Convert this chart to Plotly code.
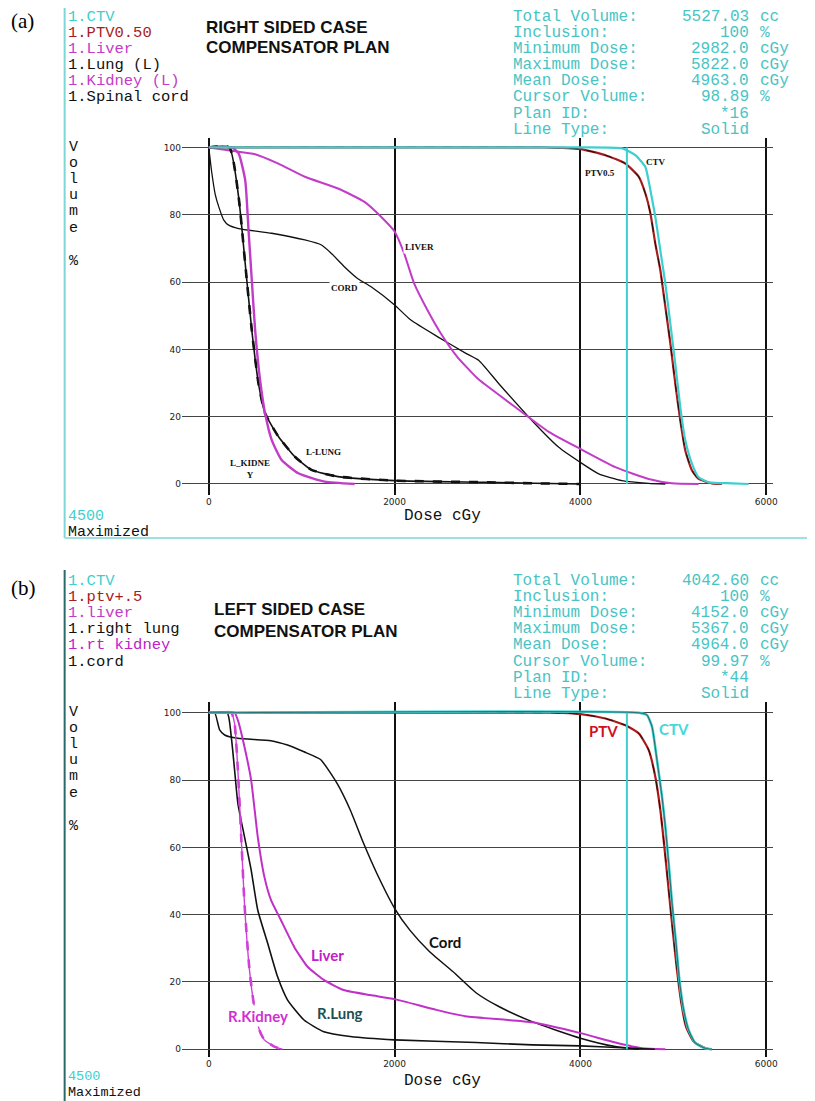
import plotly.graph_objects as go

# page body has an 8px margin: draw the figure 8px smaller and shift coordinates
OFF = 8
W, H = 815 - OFF, 1101 - OFF

# ---------------- data: panel (a) right sided case ----------------
a_ctv_dose = [0, 4000, 4448, 4591, 4699, 4753, 4806, 4860, 4914, 4968, 5021, 5075, 5129, 5201, 5272, 5380, 5631, 5810]
a_ctv_vol = [100, 100, 99.7, 97.7, 94.2, 87.3, 79.4, 69.4, 59.5, 47.6, 35.7, 22.8, 12.9, 6.0, 2.0, 0.5, 0.2, 0]
a_ptv_dose = [0, 3600, 4000, 4269, 4484, 4627, 4699, 4753, 4806, 4860, 4914, 4968, 5021, 5075, 5129, 5201, 5272, 5416, 5523]
a_ptv_vol = [100, 100, 99.5, 97.7, 95.2, 91.3, 86.3, 80.4, 71.4, 63.5, 52.6, 41.7, 29.8, 18.8, 9.9, 4.0, 1.5, 0.2, 0]
a_liver_dose = [0, 250, 499, 749, 1034, 1391, 1676, 1854, 2000, 2103, 2210, 2353, 2496, 2674, 2888, 2978, 3301, 3660, 4000, 4376, 4735, 4986, 5272]
a_liver_vol = [100, 99, 98, 95.2, 91.3, 87.8, 83.8, 79.4, 75, 68.5, 59.6, 51.7, 44.8, 37.8, 31.5, 29.5, 22.8, 15.5, 10.4, 5.0, 1.5, 0.2, 0]
a_cord_dose = [0, 30, 70, 107, 160, 214, 321, 677, 1034, 1213, 1320, 1462, 1605, 1747, 2000, 2175, 2460, 2763, 2907, 3122, 3480, 3767, 4000, 4197, 4448, 4735, 4914]
a_cord_vol = [100, 93, 86, 82.4, 78.5, 76.9, 75.9, 74.5, 72.5, 71, 68.5, 64.5, 61, 58.6, 53.2, 48.7, 43.8, 38.9, 36.7, 29.8, 18.8, 10.9, 6.4, 3.0, 1.0, 0.2, 0]
a_lung_dose = [0, 221, 321, 392, 463, 535, 606, 749, 927, 1105, 1391, 2000, 3000, 3500, 4000]
a_lung_vol = [100, 100, 85.3, 65.5, 45.7, 29.9, 21, 14.1, 8.1, 4.2, 2.2, 1.0, 0.5, 0.2, 0]
a_kidney_dose = [0, 250, 321, 392, 428, 463, 499, 552, 606, 677, 784, 963, 1248, 1569]
a_kidney_vol = [100, 100, 98.2, 90.3, 75.4, 60.6, 45.7, 30.9, 21, 13.1, 7.1, 3.2, 0.7, 0]

# ---------------- data: panel (b) left sided case ----------------
b_ctv_dose = [0, 4627, 4717, 4771, 4824, 4878, 4914, 4950, 4986, 5029, 5065, 5111, 5165, 5237, 5344, 5416]
b_ctv_vol = [100, 100, 99.3, 95.8, 85.9, 75.0, 66.1, 55.2, 43.4, 31.5, 20.6, 11.7, 5.7, 1.8, 0.3, 0]
b_ptv_dose = [0, 3700, 4000, 4269, 4484, 4627, 4735, 4806, 4860, 4907, 4950, 4993, 5039, 5086, 5136, 5219, 5344, 5416]
b_ptv_vol = [100, 100, 99.6, 98.3, 96.3, 93.9, 88.9, 81.0, 71.1, 59.2, 47.3, 35.4, 23.6, 13.7, 6.7, 2.3, 0.3, 0]
b_liver_dose = [0, 277, 313, 384, 456, 527, 598, 669, 776, 918, 1061, 1239, 1452, 1737, 2000, 2449, 2763, 3480, 4000, 4376, 4663, 4914]
b_liver_vol = [100, 100, 97.8, 89.9, 80, 63.2, 51.3, 44.4, 38.4, 30.5, 24.6, 20.6, 17.6, 16.1, 14.9, 11.7, 9.8, 8.0, 4.8, 2.0, 0.3, 0]
b_cord_dose = [0, 64, 117, 171, 313, 669, 847, 1025, 1203, 1381, 1523, 1666, 1808, 2000, 2164, 2377, 2627, 2876, 3122, 3480, 4000, 4376, 4627]
b_cord_vol = [100, 100, 94.9, 93.4, 92.4, 91.7, 90.4, 88.4, 86.1, 79.0, 71.1, 61.2, 52.3, 41.9, 35.4, 29.0, 23.1, 16.8, 12.7, 8.2, 3.3, 0.8, 0]
b_lung_dose = [0, 199, 242, 278, 313, 384, 456, 527, 634, 740, 847, 1025, 1239, 1523, 2000, 2876, 3480, 4000, 4555, 4800]
b_lung_vol = [100, 100, 92.9, 83, 73.1, 63.2, 53.3, 41.4, 31.5, 21.6, 14.7, 8.7, 5.2, 3.8, 2.8, 2.0, 1.3, 1.0, 0.3, 0]
b_kidney_dose = [0, 242, 278, 313, 349, 384, 438, 484, 545, 598, 705, 794]
b_kidney_vol = [100, 100, 96.8, 83, 63.2, 43.4, 23.6, 13.7, 5.7, 2.8, 0.8, 0]

cursor_dose = [4500, 4500]
cursor_vol = [0, 100]

x_ticks = [0, 2000, 4000, 6000]
y_ticks = [0, 20, 40, 60, 80, 100]

a_structs = ["1.CTV", "1.PTV0.50", "1.Liver", "1.Lung (L)", "1.Kidney (L)", "1.Spinal cord"]
b_structs = ["1.CTV", "1.ptv+.5", "1.liver", "1.right lung", "1.rt kidney", "1.cord"]
info_labels = ["Total Volume:", "Inclusion:", "Minimum Dose:", "Maximum Dose:", "Mean Dose:",
               "Cursor Volume:", "Plan ID:", "Line Type:"]
a_info_values = ["5527.03", "100", "2982.0", "5822.0", "4963.0", "98.89", "*16", "Solid"]
b_info_values = ["4042.60", "100", "4152.0", "5367.0", "4964.0", "99.97", "*44", "Solid"]
info_units = ["cc", "%", "cGy", "cGy", "cGy", "%", "", ""]

# ---------------- styles ----------------
CYAN = "#3ccfcf"
INFO = "#48c4c4"
RED = "#a81c1c"
MAG = "#c23cc8"
MONO = "Courier New, Liberation Mono, monospace"

fig = go.Figure()


def curve(xa, ya, dose, vol, color, width, dash="solid"):
    fig.add_trace(go.Scatter(x=dose, y=vol, xaxis=xa, yaxis=ya, mode="lines",
                             line=dict(color=color, width=width, dash=dash, shape="spline", smoothing=0.5),
                             showlegend=False, hoverinfo="skip"))


# panel a
curve("x", "y", a_cord_dose, a_cord_vol, "#111111", 1.3)
curve("x", "y", a_liver_dose, a_liver_vol, MAG, 2)
curve("x", "y", a_lung_dose, a_lung_vol, "#111111", 1.6)
curve("x", "y", a_lung_dose, a_lung_vol, "#111111", 2.6, "dash")
curve("x", "y", a_kidney_dose, a_kidney_vol, MAG, 2.4)
curve("x", "y", a_ptv_dose, a_ptv_vol, RED, 2.2)
curve("x", "y", a_ptv_dose, a_ptv_vol, "#111111", 1, "dash")
curve("x", "y", a_ctv_dose, a_ctv_vol, CYAN, 2.2)
curve("x", "y", cursor_dose, cursor_vol, CYAN, 2)

# panel b
curve("x2", "y2", b_cord_dose, b_cord_vol, "#111111", 1.5)
curve("x2", "y2", b_liver_dose, b_liver_vol, "#c030c8", 2)
curve("x2", "y2", b_lung_dose, b_lung_vol, "#111111", 1.6)
curve("x2", "y2", b_kidney_dose, b_kidney_vol, "#d040d8", 1.4)
curve("x2", "y2", b_kidney_dose, b_kidney_vol, "#d040d8", 2.6, "dash")
curve("x2", "y2", b_ptv_dose, b_ptv_vol, "#b01818", 2.2)
curve("x2", "y2", b_ptv_dose, b_ptv_vol, "#111111", 1, "dash")
curve("x2", "y2", b_ctv_dose, b_ctv_vol, CYAN, 2.6)
curve("x2", "y2", b_ctv_dose, b_ctv_vol, "#2b7272", 1.1)
curve("x2", "y2", cursor_dose, cursor_vol, CYAN, 2)


def px(x):
    return (x - OFF) / W


def py(y):
    return 1 - (y - OFF) / H


ann = []


def text(x, y, s, color="#000", size=16, family=MONO, xanchor="left", bold=False, yanchor="middle"):
    if bold:
        s = "<b>" + s + "</b>"
    ann.append(dict(x=px(x), y=py(y), xref="paper", yref="paper", text=s, showarrow=False,
                    xanchor=xanchor, yanchor=yanchor, borderpad=0,
                    font=dict(color=color, size=size, family=family)))


# panel letters
SER = "Liberation Serif, Times New Roman, serif"
text(10, 21, "(a)", size=21, family=SER)
text(10, 588, "(b)", size=21, family=SER)

# structure lists
a_cols = [CYAN, RED, MAG, "#111", MAG, "#111"]
b_cols = [CYAN, RED, MAG, "#111", "#c020c8", "#111"]
for i, s in enumerate(a_structs):
    text(67, 17 + i * 16.0, s, a_cols[i], 15.5)
for i, s in enumerate(b_structs):
    text(67, 581 + i * 16.1, s, b_cols[i], 15.5)

# titles
TF = "Liberation Sans, Arial, sans-serif"
text(206, 27, "RIGHT SIDED CASE", "#111", 17, TF, bold=True)
text(206, 47, "COMPENSATOR PLAN", "#111", 17, TF, bold=True)
text(214, 609, "LEFT SIDED CASE", "#111", 17, TF, bold=True)
text(214, 631, "COMPENSATOR PLAN", "#111", 17, TF, bold=True)

# info blocks
for i in range(len(info_labels)):
    for y0, vals in ((17, a_info_values), (581, b_info_values)):
        yy = y0 + i * 16.1
        text(515, yy, info_labels[i], INFO, 16)
        text(755, yy, vals[i], INFO, 16, xanchor="right")
        if info_units[i]:
            text(764, yy, info_units[i], INFO, 16)

# vertical axis label
letters = ["V", "o", "l", "u", "m", "e", "", "%"]
for base in (147, 712):
    for i, ch in enumerate(letters):
        if ch:
            text(68, base + i * 16.2 + (1 if ch == "%" else 0), ch, "#111", 15)

# axis title and footer
text(445, 516, "Dose cGy", "#111", 16, xanchor="center")
text(67, 516, "4500", CYAN, 15)
text(67, 532, "Maximized", "#111", 15)
text(445, 1081, "Dose cGy", "#111", 16, xanchor="center")
text(67, 1076, "4500", CYAN, 13.5)
text(67, 1101, "Maximized", "#111", 13.5, yanchor="bottom")

# curve labels (data coordinates)
def lab(xr, yr, x, y, s, color, size, family, bg=None):
    ann.append(dict(x=x, y=y, xref=xr, yref=yr, text="<b>" + s + "</b>", showarrow=False,
                    font=dict(color=color, size=size, family=family),
                    bgcolor=bg if bg else "rgba(0,0,0,0)", borderpad=1))


lab("x", "y", 4813, 95.6, "CTV", "#111", 9, SER)
lab("x", "y", 4214, 92.4, "PTV0.5", "#111", 9, SER)
lab("x", "y", 2267, 70.4, "LIVER", "#111", 9, SER, "white")
lab("x", "y", 1465, 58.2, "CORD", "#111", 9, SER, "white")
lab("x", "y", 1230, 9.6, "L-LUNG", "#111", 9, SER)
lab("x", "y", 440, 4.5, "L_KIDNE<br>Y", "#111", 9, SER, "white")

SANS = "Lato, Liberation Sans, sans-serif"
lab("x2", "y2", 4246, 94.6, "PTV", "#d01020", 15, SANS)
lab("x2", "y2", 5005, 95.1, "CTV", "#40d8d8", 15, SANS)
lab("x2", "y2", 2541, 32, "Cord", "#111", 15, SANS)
lab("x2", "y2", 1276, 28, "Liver", "#c020c8", 15, SANS)
lab("x2", "y2", 1415, 10.7, "R.Lung", "#1f4f4f", 15, SANS)
lab("x2", "y2", 535, 10.0, "R.Kidney", "#d030d0", 15, SANS, "white")

# frame decorations
shapes = [
    dict(type="line", xref="paper", yref="paper", x0=px(65), x1=px(65), y0=py(8), y1=py(538),
         line=dict(color="#7fd6d6", width=2)),
    dict(type="line", xref="paper", yref="paper", x0=px(65), x1=px(815), y0=py(538), y1=py(538),
         line=dict(color="#9fe0e0", width=2)),
    dict(type="line", xref="paper", yref="paper", x0=px(65), x1=px(65), y0=py(570), y1=py(1101),
         line=dict(color="#2a6a6a", width=2)),
]

xdom = [px(183), px(778)]
common_x = dict(domain=xdom, range=[-289, 6075], tickvals=x_ticks, showgrid=True, gridcolor="#111",
                gridwidth=2, zeroline=False, showline=False, ticks="",
                tickfont=dict(size=9, family="DejaVu Sans", color="#222"))
common_y = dict(tickvals=y_ticks, showgrid=True, gridcolor="#444", gridwidth=1, zeroline=False,
                showline=False, ticks="", tickfont=dict(size=9, family="DejaVu Sans", color="#222"))

fig.update_layout(
    width=W, height=H, margin=dict(l=0, r=0, t=0, b=0),
    paper_bgcolor="white", plot_bgcolor="white", showlegend=False,
    xaxis=dict(anchor="y", **common_x),
    yaxis=dict(anchor="x", domain=[py(495), py(138)], range=[-3.27, 102.8], **common_y),
    xaxis2=dict(anchor="y2", **common_x),
    yaxis2=dict(anchor="x2", domain=[py(1057), py(702)], range=[-2.3, 103.2], **common_y),
    annotations=ann, shapes=shapes,
)

fig.write_html("out.html")
